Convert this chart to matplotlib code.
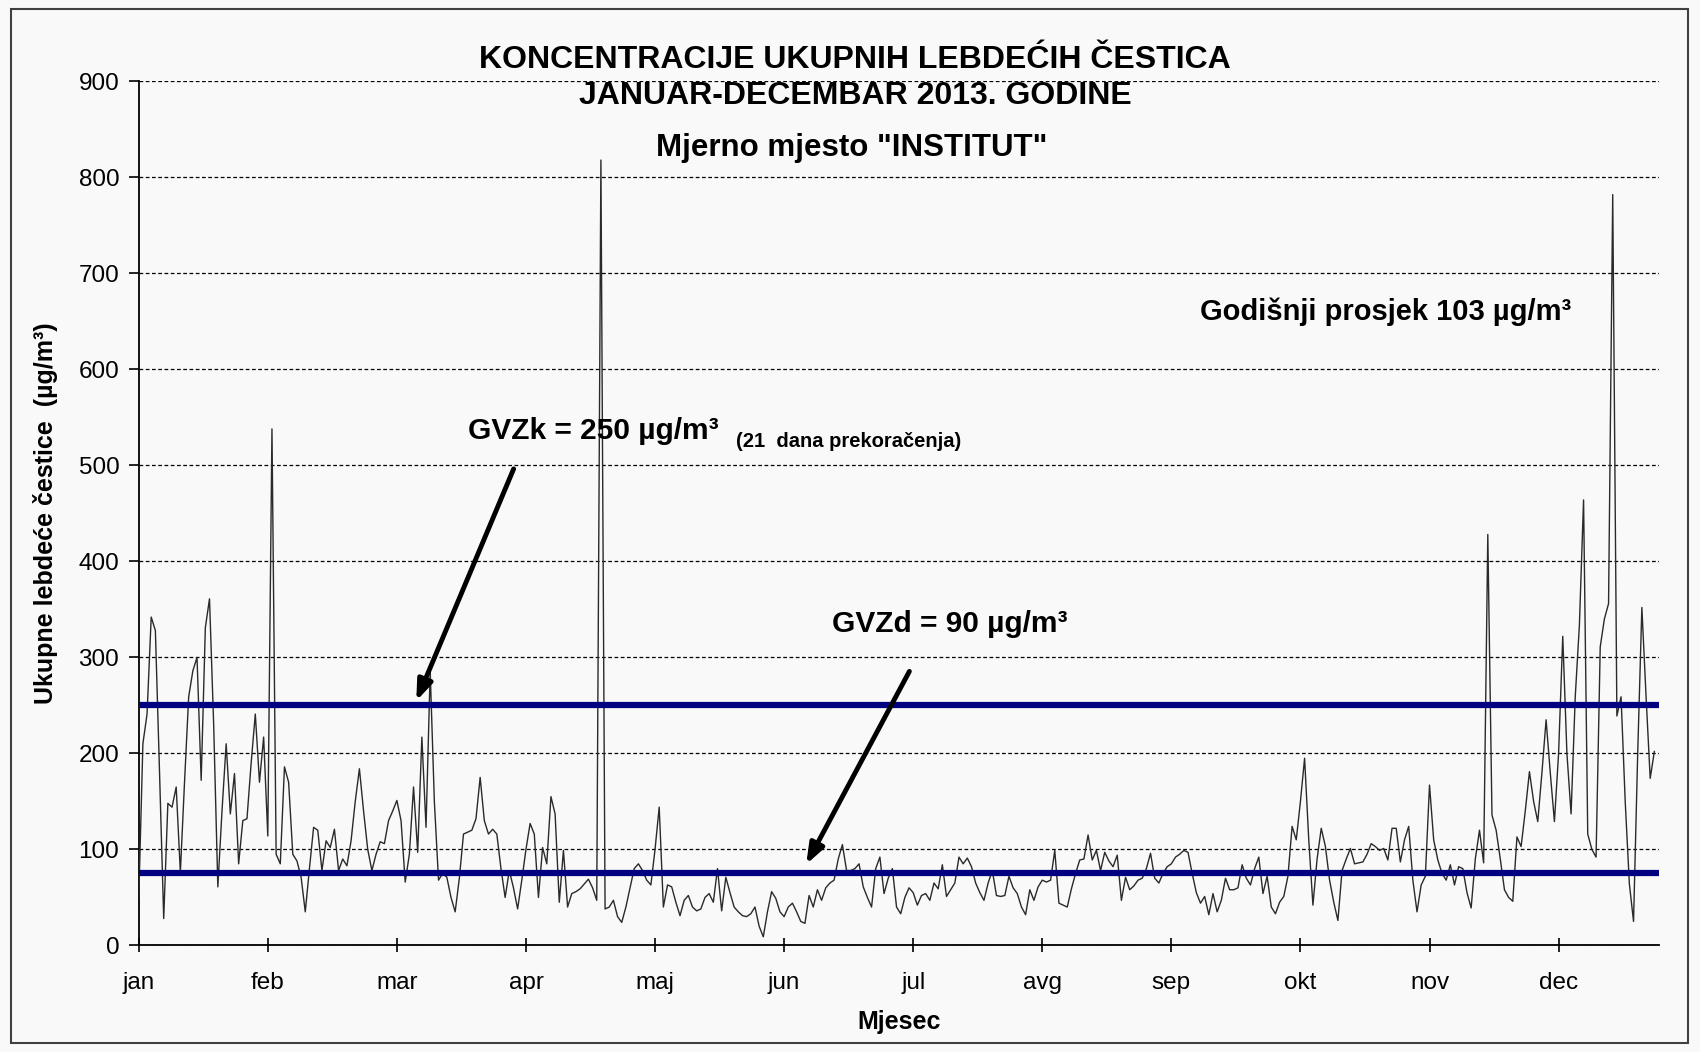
import matplotlib
matplotlib.use("Agg")
import matplotlib.pyplot as plt
from matplotlib.patches import Rectangle

plt.rcParams['font.family'] = ['Liberation Sans', 'DejaVu Sans']

# daily values (ug/m3), calendar months of 2013
jan = [47, 210, 241, 342, 328, 180, 28, 148, 144, 165, 76, 170, 259, 286, 300, 172,
       331, 361, 230, 61, 140, 210, 137, 179, 85, 130, 132, 190, 241, 170, 217]
feb = [114, 538, 95, 85, 186, 170, 95, 88, 71, 35, 80, 123, 120, 78, 109, 102,
       121, 78, 90, 83, 109, 150, 184, 140, 100, 78, 95, 108]
mar = [106, 130, 140, 151, 130, 66, 95, 165, 97, 217, 123, 286, 150, 68, 75, 71,
       50, 35, 70, 116, 118, 120, 132, 175, 130, 116, 121, 116, 80, 50, 78]
apr = [60, 38, 68, 100, 127, 116, 50, 102, 85, 155, 137, 45, 99, 40, 54, 56,
       59, 64, 69, 60, 47, 818, 38, 40, 47, 30, 24, 40, 60, 80]
maj = [85, 78, 68, 63, 100, 144, 40, 63, 61, 45, 31, 47, 52, 40, 36, 38,
       50, 54, 45, 80, 36, 71, 55, 40, 35, 31, 30, 33, 40, 20, 9]
jun = [35, 56, 49, 35, 30, 40, 44, 35, 25, 23, 52, 40, 58, 47, 60, 65,
       68, 90, 105, 78, 78, 80, 85, 61, 50, 40, 80, 92, 54, 70]
jul = [80, 40, 33, 50, 60, 55, 42, 52, 54, 47, 65, 59, 84, 51, 58, 65,
       92, 85, 91, 82, 65, 55, 47, 65, 78, 52, 51, 52, 72, 60, 54]
avg = [40, 32, 58, 47, 61, 68, 66, 68, 99, 44, 42, 40, 59, 75, 89, 90,
       115, 89, 99, 78, 97, 88, 82, 94, 47, 71, 58, 62, 68, 70, 80]
sep = [96, 70, 65, 75, 82, 85, 92, 95, 99, 97, 75, 55, 44, 51, 32, 54,
       35, 47, 70, 58, 58, 60, 84, 70, 63, 80, 92, 54, 72, 40]
okt = [33, 45, 51, 72, 124, 110, 150, 195, 110, 42, 90, 122, 103, 68, 45, 26,
       78, 90, 101, 85, 86, 87, 95, 106, 103, 99, 101, 89, 122, 122, 87]
nov = [110, 124, 68, 35, 63, 72, 167, 110, 89, 75, 68, 84, 63, 82, 80, 55,
       39, 90, 120, 86, 428, 136, 120, 90, 58, 50, 46, 113, 103, 140]
dec = [181, 150, 129, 180, 235, 180, 129, 200, 322, 200, 137, 259, 334, 464, 116, 100,
       92, 311, 340, 356, 782, 239, 259, 150, 64, 25, 200, 352, 260, 174, 202]

month_labels = ['jan', 'feb', 'mar', 'apr', 'maj', 'jun',
                'jul', 'avg', 'sep', 'okt', 'nov', 'dec']
gvzk = 250
gvzd_line = 75

values = jan + feb + mar + apr + maj + jun + jul + avg + sep + okt + nov + dec
days = list(range(len(values)))

fig = plt.figure(figsize=(17, 10.52), dpi=100, facecolor='#f9f9f9')
ax = fig.add_axes([0.0816, 0.1013, 0.894, 0.8214])
ax.set_facecolor('#f9f9f9')

ax.plot(days, values, color='#2a2a2a', lw=1.0, zorder=3)
ax.axhline(gvzk, color='#000080', lw=4.5, zorder=4)
ax.axhline(gvzd_line, color='#000080', lw=4.5, zorder=4)

ax.set_xlim(0, 365)
ax.set_ylim(0, 900)
ax.set_yticks(range(0, 901, 100))
ax.set_xticks([31 * i for i in range(12)])
ax.set_xticklabels(month_labels)
ax.tick_params(axis='y', direction='out', length=7, width=1.2, labelsize=17.5, pad=7)
ax.tick_params(axis='x', direction='inout', length=10, width=1.2, labelsize=17.5, pad=14)

ax.yaxis.grid(True, color='black', linestyle=(0, (3, 2)), lw=0.9)
ax.set_axisbelow(True)
for s in ['top', 'right']:
    ax.spines[s].set_visible(False)
for s in ['left', 'bottom']:
    ax.spines[s].set_linewidth(1.3)

ax.set_ylabel('Ukupne lebdeće čestice  (µg/m³)', fontsize=18, fontweight='bold', labelpad=15)
ax.set_xlabel('Mjesec', fontsize=18, fontweight='bold', labelpad=12)

fig.text(0.503, 0.943, 'KONCENTRACIJE UKUPNIH LEBDEĆIH ČESTICA', ha='center', va='center',
         fontsize=23, fontweight='bold')
fig.text(0.503, 0.909, 'JANUAR-DECEMBAR 2013. GODINE', ha='center', va='center',
         fontsize=23, fontweight='bold')
fig.text(0.501, 0.859, 'Mjerno mjesto "INSTITUT"', ha='center', va='center',
         fontsize=22.5, fontweight='bold')

ax.text(79, 536, 'GVZk = 250 µg/m³', fontsize=21.5, fontweight='bold', va='center')
ax.text(143.5, 525, '(21  dana prekoračenja)', fontsize=14.5, fontweight='bold', va='center')
ax.text(166.5, 335, 'GVZd = 90 µg/m³', fontsize=21.5, fontweight='bold', va='center')
ax.text(255, 660, 'Godišnji prosjek 103 µg/m³', fontsize=21, fontweight='bold', va='center')

arrow = dict(arrowstyle='-|>,head_length=1.2,head_width=0.45', color='black', lw=3.5)
ax.annotate('', xy=(66.4, 252), xytext=(90.3, 499), arrowprops=arrow, zorder=6)
ax.annotate('', xy=(160, 82), xytext=(185.4, 288), arrowprops=arrow, zorder=6)

fig.patches.append(Rectangle((0.0065, 0.0085), 0.9865, 0.9825, transform=fig.transFigure,
                             fill=False, edgecolor='#404040', lw=1.5))

fig.savefig('out.png', dpi=100, facecolor=fig.get_facecolor())
